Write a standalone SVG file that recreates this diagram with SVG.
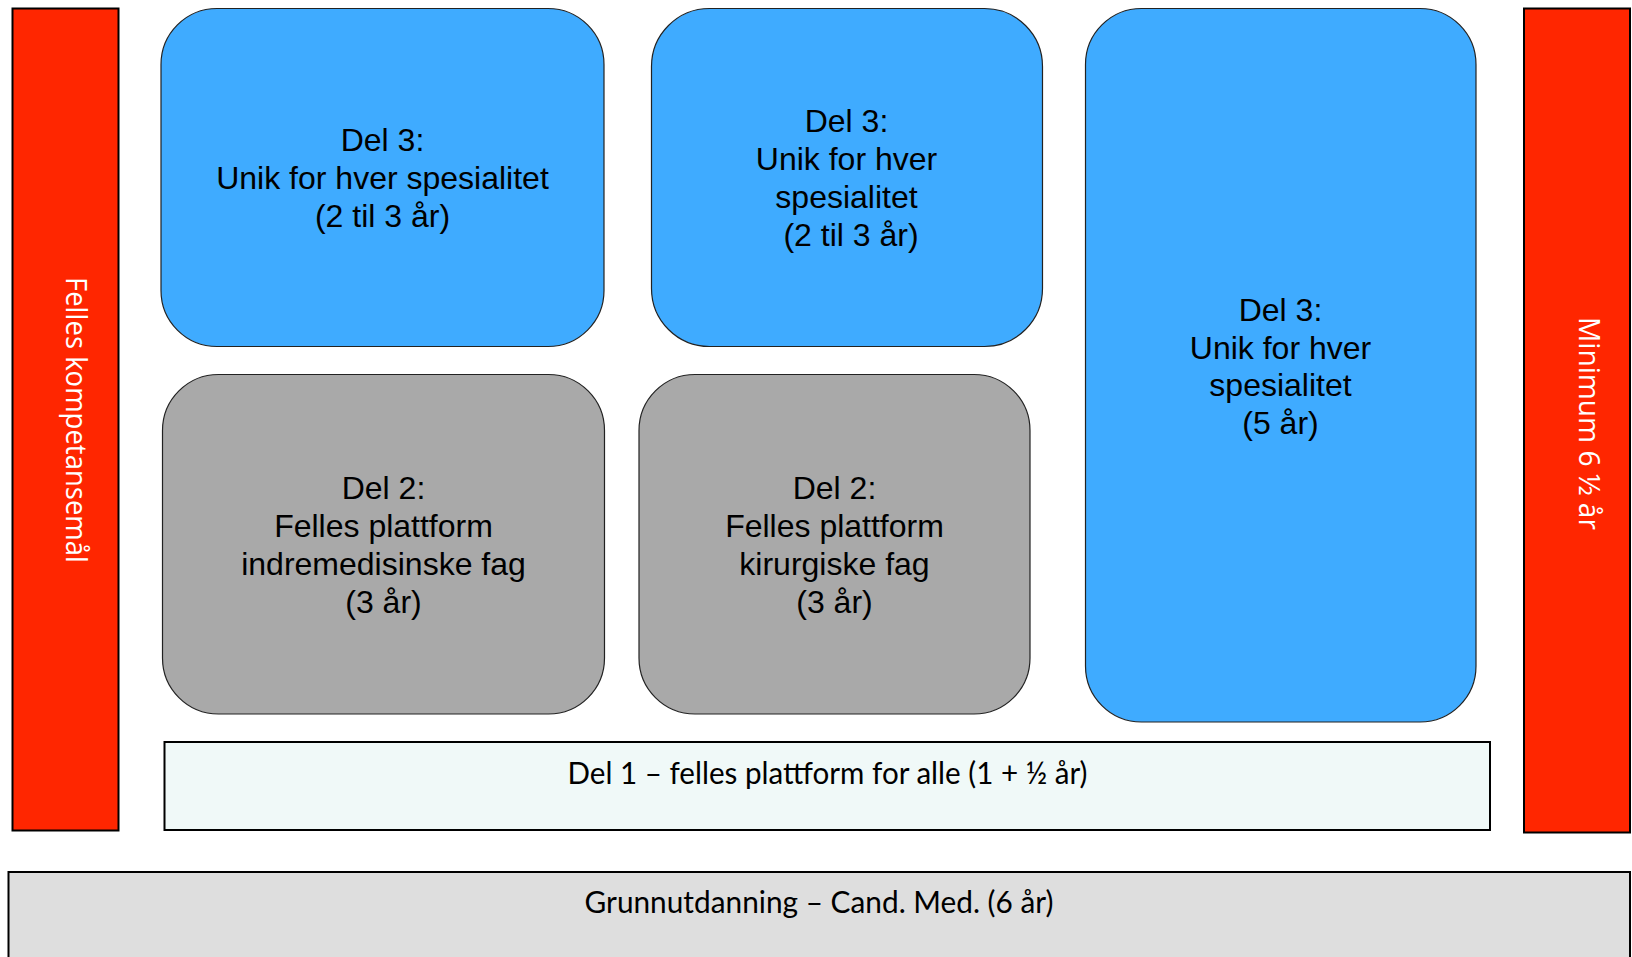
<svg xmlns="http://www.w3.org/2000/svg" width="1632" height="957" viewBox="0 0 1632 957">
<style>
.bar{fill:#ff2600;stroke:#000;stroke-width:2}
.blue{fill:#3fabff;stroke:#222;stroke-width:1.2}
.gray{fill:#a9a9a9;stroke:#222;stroke-width:1.2}
.t{font-family:"Liberation Sans",Arial,sans-serif;font-size:32px;fill:#000;text-anchor:middle}
.c{font-family:Lato,"Open Sans",sans-serif;font-size:30px;fill:#000;text-anchor:middle}
.w{font-family:"Open Sans","Noto Sans",sans-serif;font-size:29px;fill:#fff;text-anchor:middle}
</style>
<rect width="1632" height="957" fill="#fff"/>
<g id="connectors"></g>
<g id="felles-kompetansemal">
<rect class="bar" x="12.5" y="8.5" width="106" height="822"/>
<text class="w" transform="translate(66,420) rotate(90)" textLength="286" lengthAdjust="spacingAndGlyphs">Felles kompetansemål</text>
</g>
<g id="minimum">
<rect class="bar" x="1524" y="8.5" width="106" height="824"/>
<text class="w" transform="translate(1578.5,423.5) rotate(90)" textLength="213" lengthAdjust="spacingAndGlyphs">Minimum 6 ½ år</text>
</g>
<g id="del3-a">
<rect class="blue" x="161" y="8.5" width="443" height="338" rx="56" ry="56"/>
<text class="t" x="382.5" y="151">Del 3:</text>
<text class="t" x="382.5" y="189">Unik for hver spesialitet</text>
<text class="t" x="382.5" y="227">(2 til 3 år)</text>
</g>
<g id="del3-b">
<rect class="blue" x="651.5" y="8.5" width="391" height="338" rx="58" ry="58"/>
<text class="t" x="846.5" y="132">Del 3:</text>
<text class="t" x="846.5" y="170">Unik for hver</text>
<text class="t" x="846.5" y="207.5">spesialitet</text>
<text class="t" x="851" y="246">(2 til 3 år)</text>
</g>
<g id="del3-c">
<rect class="blue" x="1085.5" y="8.5" width="390.5" height="713.5" rx="56" ry="56"/>
<text class="t" x="1280.5" y="321">Del 3:</text>
<text class="t" x="1280.5" y="358.5">Unik for hver</text>
<text class="t" x="1280.5" y="396">spesialitet</text>
<text class="t" x="1280.5" y="434">(5 år)</text>
</g>
<g id="del2-a">
<rect class="gray" x="162.5" y="374.5" width="442" height="339.5" rx="56" ry="56"/>
<text class="t" x="383.5" y="499">Del 2:</text>
<text class="t" x="383.5" y="537">Felles plattform</text>
<text class="t" x="383.5" y="575">indremedisinske fag</text>
<text class="t" x="383.5" y="613">(3 år)</text>
</g>
<g id="del2-b">
<rect class="gray" x="639" y="374.5" width="391" height="339.5" rx="56" ry="56"/>
<text class="t" x="834.5" y="499">Del 2:</text>
<text class="t" x="834.5" y="537">Felles plattform</text>
<text class="t" x="834.5" y="575">kirurgiske fag</text>
<text class="t" x="834.5" y="613">(3 år)</text>
</g>
<g id="del1">
<rect x="164.5" y="742" width="1325.5" height="88" fill="#f0f9f8" stroke="#000" stroke-width="2"/>
<text class="c" x="827.5" y="784" textLength="520" lengthAdjust="spacingAndGlyphs">Del 1 – felles plattform for alle (1 + ½ år)</text>
</g>
<g id="grunnutdanning">
<rect x="8.5" y="872" width="1621.5" height="95" fill="#dedede" stroke="#000" stroke-width="2"/>
<text class="c" x="819" y="913" textLength="469" lengthAdjust="spacingAndGlyphs">Grunnutdanning – Cand. Med. (6 år)</text>
</g>
</svg>
